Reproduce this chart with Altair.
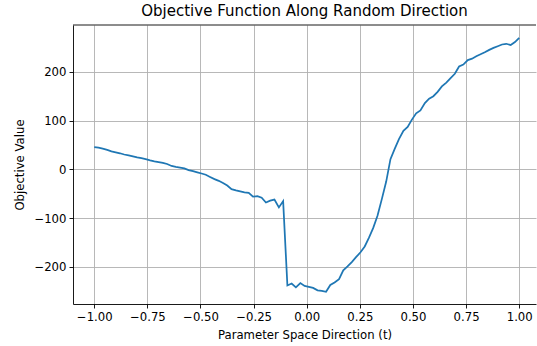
import altair as alt
import pandas as pd

t_values = [
    -1.000, -0.980, -0.960, -0.939, -0.919, -0.899, -0.879, -0.859, -0.838, -0.818,
    -0.798, -0.778, -0.758, -0.737, -0.717, -0.697, -0.677, -0.657, -0.636, -0.616,
    -0.596, -0.576, -0.556, -0.535, -0.515, -0.495, -0.475, -0.455, -0.434, -0.414,
    -0.394, -0.374, -0.354, -0.333, -0.313, -0.293, -0.273, -0.253, -0.232, -0.212,
    -0.192, -0.172, -0.152, -0.131, -0.111, -0.091, -0.071, -0.051, -0.030, -0.010,
    0.010, 0.030, 0.051, 0.071, 0.091, 0.111, 0.131, 0.152, 0.172, 0.192,
    0.212, 0.232, 0.253, 0.273, 0.293, 0.313, 0.333, 0.354, 0.374, 0.394,
    0.414, 0.434, 0.455, 0.475, 0.495, 0.515, 0.535, 0.556, 0.576, 0.596,
    0.616, 0.636, 0.657, 0.677, 0.697, 0.717, 0.737, 0.758, 0.778, 0.798,
    0.818, 0.838, 0.859, 0.879, 0.899, 0.919, 0.939, 0.960, 0.980, 1.000,
]

objective_values = [
    45.7, 44.5, 42.5, 40, 37, 35, 33, 30.5, 28.5, 26.5,
    24.5, 23, 21, 18.5, 16.5, 15, 13.5, 11, 7, 5,
    3.5, 2, -1.5, -3.5, -6, -8.5, -11, -15.5, -20, -23.5,
    -28, -33, -40.5, -43, -45, -47, -48, -56, -55, -58,
    -68, -64, -62, -78, -65, -238, -234, -242, -233, -239,
    -241, -243, -248, -249, -251, -237, -232, -225, -207, -199,
    -190, -180, -170, -158, -140, -120, -95, -60, -25, 21,
    42, 62, 79, 87, 102, 115, 121, 136, 145, 150,
    159, 170, 178, 187, 196, 211, 215, 224, 227, 232,
    236, 240, 245, 249, 252.5, 256, 257.5, 255, 261, 269.5,
]

x_ticks = [-1.0, -0.75, -0.5, -0.25, 0.0, 0.25, 0.5, 0.75, 1.0]
y_ticks = [-200, -100, 0, 100, 200]

df = pd.DataFrame({"t": t_values, "value": objective_values})

W, H = 463, 279
FONT = "DejaVu Sans"

line = alt.Chart(df).mark_line(color="#1f77b4", strokeWidth=1.75, clip=True).encode(
    x=alt.X("t:Q",
            scale=alt.Scale(domain=[-1.1, 1.079], nice=False, zero=False),
            axis=alt.Axis(values=x_ticks, format=".2f",
                          title="Parameter Space Direction (t)")),
    y=alt.Y("value:Q",
            scale=alt.Scale(domain=[-276, 296], nice=False, zero=False),
            axis=alt.Axis(values=y_ticks, format="d", title="Objective Value")),
)

top_spine = alt.Chart(alt.Data(values=[{"a": 1}])).mark_rule(
    color="black", strokeWidth=0.9
).encode(x=alt.value(0), x2=alt.value(W), y=alt.value(0))

chart = alt.layer(line, top_spine).properties(
    width=W, height=H,
    title=alt.TitleParams("Objective Function Along Random Direction",
                          font=FONT, fontSize=15, fontWeight="normal",
                          color="black", anchor="middle", offset=6),
    autosize=alt.AutoSizeParams(type="none"),
    padding={"left": 73, "top": 25, "right": 1, "bottom": 42},
).configure_view(stroke=None).configure_axis(
    grid=True, gridColor="#b0b0b0", gridWidth=0.9,
    domainColor="black", domainWidth=0.9,
    tickColor="black", tickWidth=0.9, tickSize=4,
    labelFont=FONT, labelFontSize=11.7, labelColor="black", labelPadding=3,
    titleFont=FONT, titleFontSize=11.7, titleFontWeight="normal", titleColor="black",
).configure_axisX(titlePadding=7).configure_axisY(titlePadding=8)

chart.save("out.html", embed_options={"renderer": "svg", "actions": False})
